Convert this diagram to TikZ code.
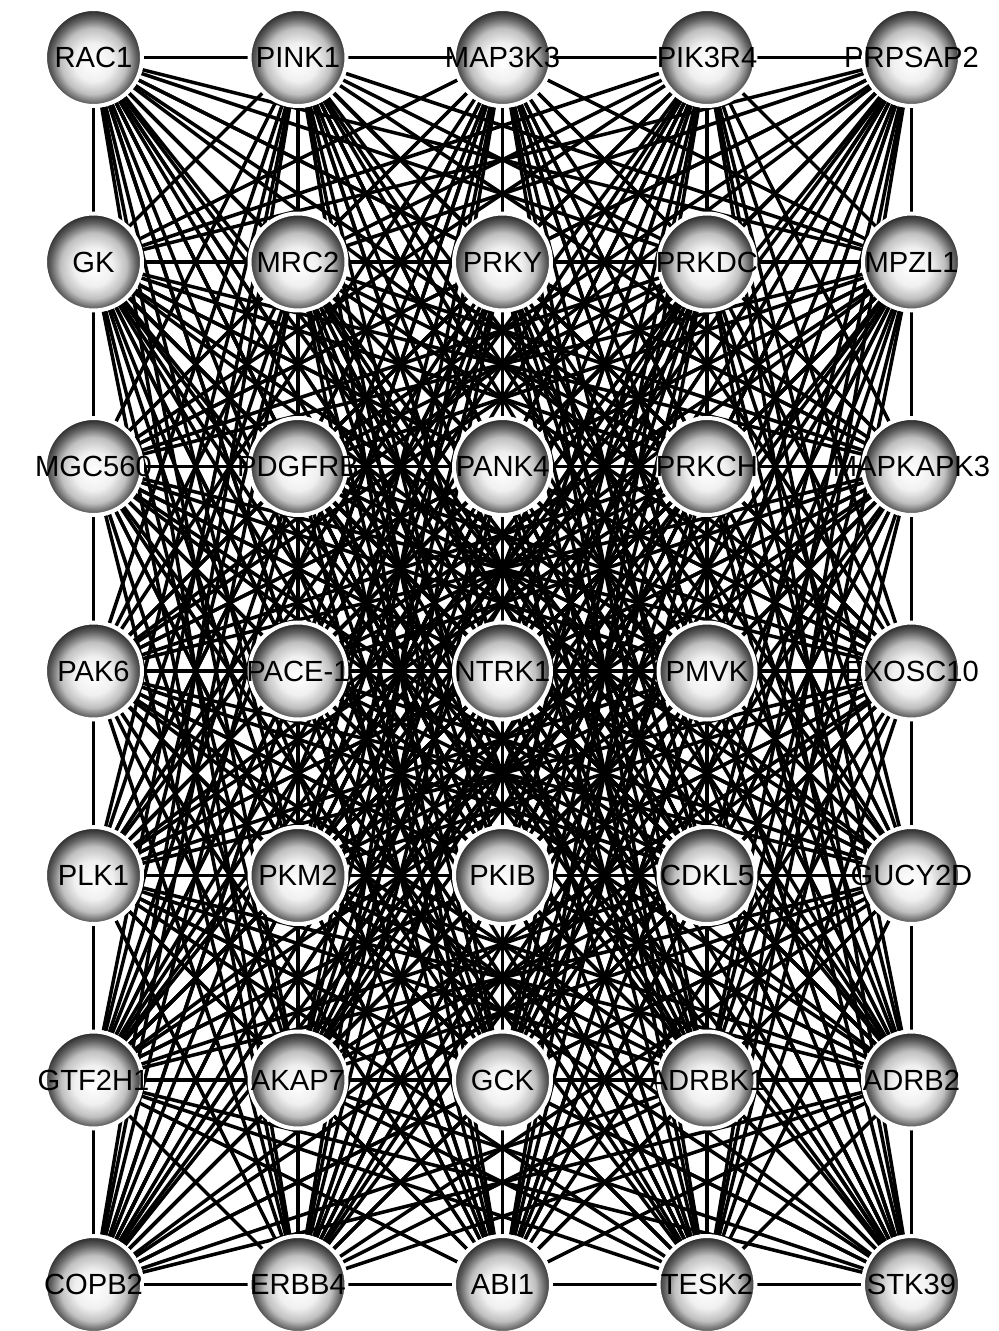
\documentclass[tikz,border=0pt]{standalone}
\usepackage{fontspec}
\setmainfont{Liberation Sans}
\usepackage{tikz}
\pgfdeclarelayer{background}
\pgfsetlayers{background,main}
\pgfdeclareradialshading{ballshade}{\pgfpoint{0bp}{-3bp}}{%
	color(0bp)=(white); color(10bp)=(black!6); color(17bp)=(black!25);
	color(22bp)=(black!62); color(26bp)=(black!85); color(50bp)=(black!88)}
\tikzset{
	main node/.style={circle,shade,shading=ballshade,draw=white,line width=0.08cm,
		minimum size=1.94cm,inner sep=0pt,font=\fontsize{16.6}{18}\selectfont},
	link/.style={line width=0.07cm,black}
}

\begin{document}
\begin{tikzpicture}[x=0.02cm,y=-0.02cm]
	\useasboundingbox (0,0) rectangle (998,1331);
	\foreach \name [count=\i from 0] in {RAC1,PINK1,MAP3K3,PIK3R4,PRPSAP2,
		GK,MRC2,PRKY,PRKDC,MPZL1,
		MGC560,PDGFRB,PANK4,PRKCH,MAPKAPK3,
		PAK6,PACE-1,NTRK1,PMVK,EXOSC10,
		PLK1,PKM2,PKIB,CDKL5,GUCY2D,
		GTF2H1,AKAP7,GCK,ADRBK1,ADRB2,
		COPB2,ERBB4,ABI1,TESK2,STK39}{
		\pgfmathtruncatemacro\c{mod(\i,5)}
		\pgfmathtruncatemacro\r{div(\i,5)}
		\pgfmathtruncatemacro\k{\i+1}
		\node [main node] (\k) at (93.5+204.5*\c,57.5+204.5*\r) {\makebox[0pt]{\name}};
	}
	\begin{pgfonlayer}{background}
		\foreach \i in {1,...,34}{
			\pgfmathtruncatemacro\first{\i+1}
			\foreach \j in {\first,...,35}
				\draw [link] (\i) -- (\j);
		}
	\end{pgfonlayer}
\end{tikzpicture}
\end{document}
